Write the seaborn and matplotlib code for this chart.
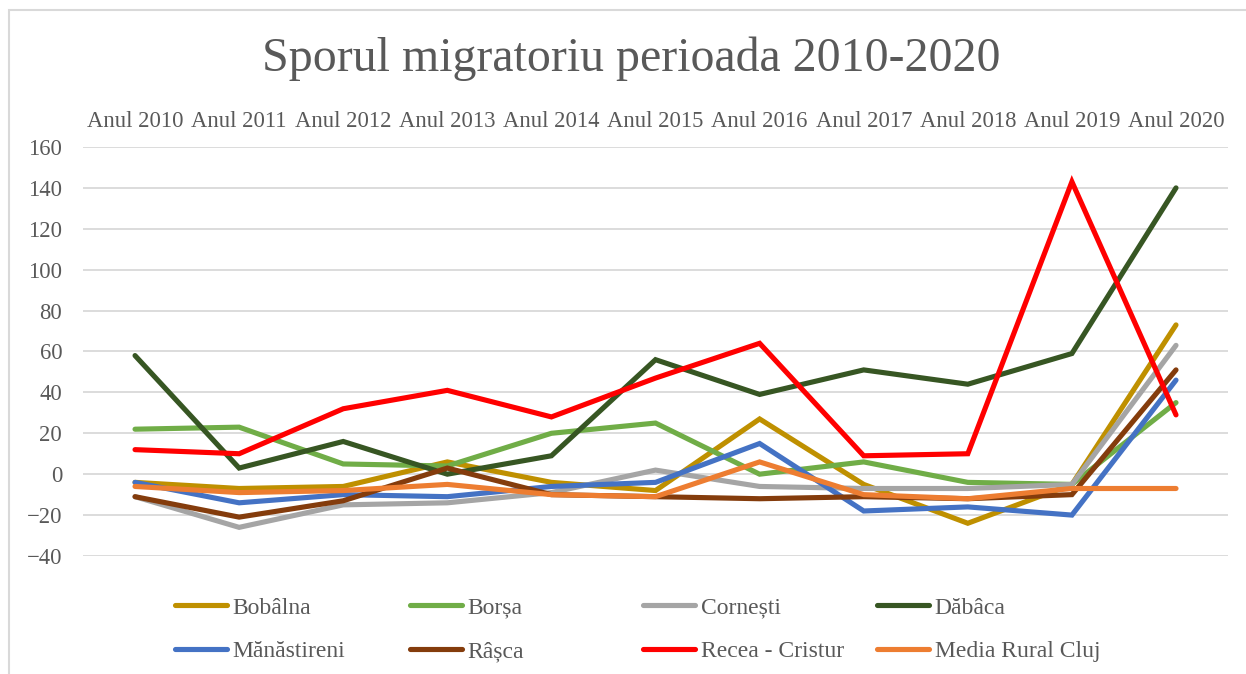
import numpy as np
import pandas as pd
import matplotlib
matplotlib.use("Agg")
import matplotlib.pyplot as plt
import seaborn as sns
from matplotlib.patches import Rectangle

ani = ["Anul 2010", "Anul 2011", "Anul 2012", "Anul 2013", "Anul 2014", "Anul 2015",
       "Anul 2016", "Anul 2017", "Anul 2018", "Anul 2019", "Anul 2020"]

bobalna = [-4, -7, -6, 6, -4, -8, 27, -5, -24, -5, 73]
borsa = [22, 23, 5, 4, 20, 25, 0, 6, -4, -5, 35]
cornesti = [-11, -26, -15, -14, -9, 2, -6, -7, -7, -5, 63]
dabaca = [58, 3, 16, 0, 9, 56, 39, 51, 44, 59, 140]
manastireni = [-4, -14, -10, -11, -6, -4, 15, -18, -16, -20, 46]
rasca = [-11, -21, -13, 3, -10, -11, -12, -11, -12, -10, 51]
recea_cristur = [12, 10, 32, 41, 28, 47, 64, 9, 10, 143, 29]
media_rural = [-6, -9, -8, -5, -10, -11, 6, -10, -12, -7, -7]

serii = ["Bobâlna", "Borșa", "Cornești", "Dăbâca",
         "Mănăstireni", "Râșca", "Recea - Cristur", "Media Rural Cluj"]
valori = [bobalna, borsa, cornesti, dabaca, manastireni, rasca, recea_cristur, media_rural]
culori = ["#BF9000", "#70AD47", "#A5A5A5", "#375623",
          "#4472C4", "#843C0C", "#FF0000", "#ED7D31"]

GRI = "#595959"
FONT = "Liberation Serif"

df = pd.DataFrame({
    "pozitie": np.tile(np.arange(len(ani)), len(serii)),
    "valoare": np.concatenate(valori),
    "comuna": np.repeat(serii, len(ani)),
})

sns.set_style("white")
plt.rcParams['font.family'] = [FONT, 'DejaVu Serif']

fig = plt.figure(figsize=(12.46, 6.74), dpi=100)
ax = fig.add_axes([0.0666, 0.1751, 0.919, 0.6068])

sns.lineplot(data=df, x="pozitie", y="valoare", hue="comuna",
             hue_order=serii, palette=culori, linewidth=3.7,
             solid_capstyle="round", ax=ax, legend=False)
for line in ax.lines:
    line.set_solid_joinstyle("miter")

ax.set_xlim(-0.5, len(ani) - 0.5)
ax.set_ylim(-40, 160)
ax.set_yticks(np.arange(-40, 161, 20))
ax.set_xticks(np.arange(len(ani)))
ax.set_xticklabels(ani)
ax.xaxis.tick_top()
ax.tick_params(axis="x", length=0, pad=11, labelsize=16.3, labelcolor=GRI)
ax.tick_params(axis="y", length=0, pad=15, labelsize=16.3, labelcolor=GRI)
for lbl in ax.get_xticklabels() + ax.get_yticklabels():
    lbl.set_fontfamily(FONT)
ax.set_xlabel("")
ax.set_ylabel("")
ax.grid(axis="y", color="#D9D9D9", linewidth=1.3)
ax.set_axisbelow(True)
for s in ax.spines.values():
    s.set_visible(False)

fig.text(0.507, 0.913, "Sporul migratoriu perioada 2010-2020",
         ha="center", va="center", fontsize=34.5, color=GRI, family=FONT)

# legend: 4 columns of fixed width, 2 rows
col_x = [175, 410, 643, 877]
for c in range(4):
    hs, ls = [], []
    for r in range(2):
        i = r * 4 + c
        hs.append(plt.Line2D([], [], color=culori[i], linewidth=3.7, solid_capstyle="round"))
        ls.append(serii[i])
    fig.legend(hs, ls, loc="upper left", bbox_to_anchor=(col_x[c] / 1246, 1 - 597 / 674),
               frameon=False, prop={"family": FONT, "size": 17}, labelcolor=GRI,
               handlelength=2.2, handletextpad=0.25, borderpad=0, borderaxespad=0,
               labelspacing=0.95)

fig.patches.append(Rectangle((9 / 1246, -0.05), 1.1, 1 - 10 / 674 + 0.05,
                             transform=fig.transFigure, fill=False,
                             edgecolor="#D9D9D9", linewidth=1.5))

fig.savefig("out.png", dpi=100, facecolor="white")
